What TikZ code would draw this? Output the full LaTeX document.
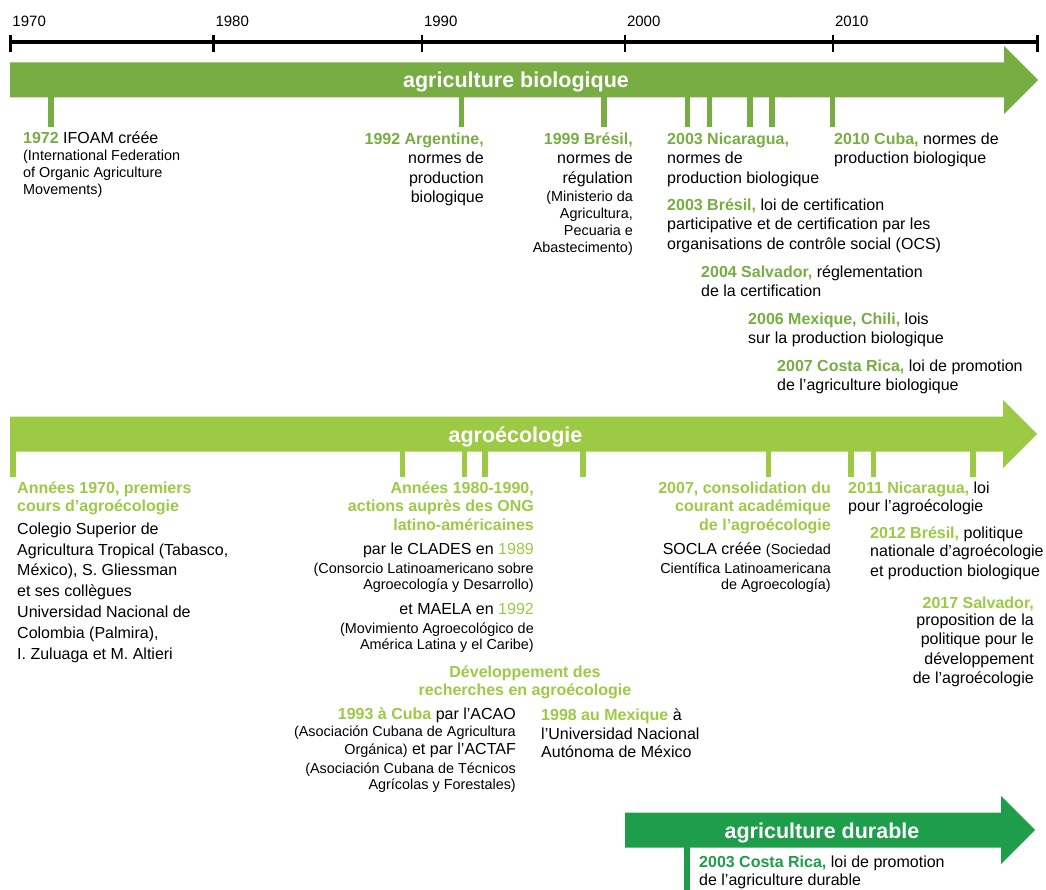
\documentclass[tikz,border=0pt]{standalone}
\usepackage{fontspec}
\setmainfont{Liberation Sans}
\usepackage{xcolor}
\definecolor{biogreen}{HTML}{77AD42}
\definecolor{agrogreen}{HTML}{9CCA44}
\definecolor{durgreen}{HTML}{1E9D4B}
\def\bodyh{17.5}
\def\headh{34}
\def\headl{34}
\newcommand{\sm}[1]{{\fontsize{14.4}{17}\selectfont #1}}
\newcommand{\bio}[1]{\textcolor{biogreen}{\bfseries #1}}
\newcommand{\agro}[1]{\textcolor{agrogreen}{\bfseries #1}}
\newcommand{\dur}[1]{\textcolor{durgreen}{\bfseries #1}}
\newcommand{\drawaxis}{
  \draw[line width=3.5] (10.5, 42) -- (1037.5, 42);
  \foreach \x/\yr in {10.5/1970, 213.5/1980, 422/1990, 625/2000, 833/2010} {
    \draw[line width=2.8] (\x, 35.5) -- (\x, 52);
    \node[yearlabel] (y\yr) at (\x + 1.8, 27) {\yr};
  }
  \draw[line width=2.8] (1037.5, 35.5) -- (1037.5, 52);
}
\newcommand{\bigarrow}[6]{
  \fill[#5] (#2, #4 - \bodyh) -- (#3 - \headl, #4 - \bodyh) -- (#3 - \headl, #4 - \headh)
    -- (#3, #4) -- (#3 - \headl, #4 + \headh) -- (#3 - \headl, #4 + \bodyh)
    -- (#2, #4 + \bodyh) -- cycle;
  \node[arrowlabel] (#1) at ({(#2 + #3)/2 - 8}, #4 + 8) {#6};
}
\newcommand{\drawticks}[4]{
  \foreach \x in {#1} {
    \fill[#4] (\x - 2.8, #2) rectangle (\x + 2.8, #3);
  }
}

\begin{document}
\begin{tikzpicture}[x=1pt, y=-1pt,
  yearlabel/.style={anchor=base west, inner sep=0, font=\fontsize{15}{18}\selectfont},
  arrowlabel/.style={anchor=base, inner sep=0, text=white, font=\fontsize{21.5}{25}\selectfont\bfseries},
  txt/.style={inner sep=0, font=\fontsize{16}{19.3}\selectfont},
  lefttxt/.style={txt, anchor=base west, align=left},
  righttxt/.style={txt, anchor=base east, align=right}]
  \useasboundingbox (0, 0) rectangle (1046, 890);
  \drawaxis{}

  \bigarrow{biolabel}{10}{1038}{80}{biogreen}{agriculture biologique}
  \drawticks{51, 461.5, 604, 687.5, 709.5, 750, 772, 832.5}{96}{127}{biogreen}
  \node[lefttxt] (ifoam) at (23, 195) {\bio{1972} IFOAM créée\\[-2.3pt]
    \sm{(International Federation}\\[-2.3pt]\sm{of Organic Agriculture}\\[-2.3pt]\sm{Movements)}};
  \node[righttxt] (argentine92) at (484, 202.4) {\bio{1992 Argentine,}\\normes de\\production\\biologique};
  \node[righttxt] (bresil99) at (633, 252.4) {\bio{1999 Brésil,}\\normes de\\régulation\\[-1pt]
    \sm{(Ministerio da}\\[-2.3pt]\sm{Agricultura,}\\[-2.3pt]\sm{Pecuaria e}\\[-2.3pt]\sm{Abastecimento)}};
  \node[lefttxt] (nicaragua03) at (667, 183.1) {\bio{2003 Nicaragua,}\\normes de\\production biologique};
  \node[lefttxt] (bresil03) at (667, 249.3) {\bio{2003 Brésil,} loi de certification\\participative et de certification par les\\organisations de contrôle social (OCS)};
  \node[lefttxt] (salvador04) at (701, 296.8) {\bio{2004 Salvador,} réglementation\\de la certification};
  \node[lefttxt] (mexique06) at (748, 343.5) {\bio{2006 Mexique, Chili,} lois\\sur la production biologique};
  \node[lefttxt] (costarica07) at (777, 390.5) {\bio{2007 Costa Rica,} loi de promotion\\de l’agriculture biologique};
  \node[lefttxt] (cuba10) at (834, 163.8) {\bio{2010 Cuba,} normes de\\production biologique};

  \bigarrow{agrolabel}{10}{1037}{434}{agrogreen}{agroécologie}
  \drawticks{13, 402.5, 464.5, 485, 583, 768.5, 851, 873.5, 973}{450}{477}{agrogreen}
  \node[lefttxt, font=\fontsize{16}{20.7}\selectfont] (annees70) at (17, 659.5) {\agro{Années 1970, premiers}\\[-2.2pt]
    \agro{cours d’agroécologie}\\[2.3pt]Colegio Superior de\\Agricultura Tropical (Tabasco,\\México), S. Gliessman\\
    et ses collègues\\Universidad Nacional de\\Colombia (Palmira),\\[0.8pt]I. Zuluaga et M. Altieri};
  \node[righttxt] (annees80) at (534, 649.2) {\agro{Années 1980-1990,}\\[-0.8pt]\agro{actions auprès des ONG}\\
    \agro{latino-américaines}\\[4.5pt]par le CLADES en \textcolor{agrogreen}{1989}\\[-0.3pt]
    \sm{(Consorcio Latinoamericano sobre}\\[-3.3pt]\sm{Agroecología y Desarrollo)}\\[5.3pt]
    et MAELA en \textcolor{agrogreen}{1992}\\[-0.3pt]\sm{(Movimiento Agroecológico de}\\[-3.3pt]\sm{América Latina y el Caribe)}};
  \node[txt, anchor=base, align=center] (recherches) at (525, 695) {\agro{Développement des}\\[-1.3pt]\agro{recherches en agroécologie}};
  \node[righttxt] (cuba93) at (516, 789.3) {\agro{1993 à Cuba} par l’ACAO\\[-2.3pt]\sm{(Asociación Cubana de Agricultura}\\[-1.3pt]
    \sm{Orgánica)} et par l’ACTAF\\\sm{(Asociación Cubana de Técnicos}\\[-3.3pt]\sm{Agrícolas y Forestales)}};
  \node[lefttxt] (mexique98) at (541, 757.5) {\agro{1998 au Mexique} à\\[-0.8pt]l’Universidad Nacional\\[-0.8pt]Autónoma de México};
  \node[righttxt] (consolidation07) at (831, 589.6) {\agro{2007, consolidation du}\\[-0.8pt]\agro{courant académique}\\
    \agro{de l’agroécologie}\\[4.5pt]SOCLA créée \sm{(Sociedad}\\[-0.3pt]\sm{Científica Latinoamericana}\\[-3.3pt]\sm{de Agroecología)}};
  \node[lefttxt] (nicaragua11) at (848, 511.5) {\agro{2011 Nicaragua,} loi\\[-0.8pt]pour l’agroécologie};
  \node[lefttxt] (bresil12) at (870, 576) {\agro{2012 Brésil,} politique\\[-1.3pt]nationale d’agroécologie\\[0.7pt]et production biologique};
  \node[righttxt] (salvador17) at (1034, 683.7) {\agro{2017 Salvador,}\\[-1.9pt]proposition de la\\politique pour le\\[0.7pt]développement\\[-0.3pt]de l’agroécologie};

  \bigarrow{durlabel}{625}{1035}{830}{durgreen}{agriculture durable}
  \drawticks{687}{846}{890}{durgreen}
  \node[lefttxt] (costarica03) at (699, 885.5) {\dur{2003 Costa Rica,} loi de promotion\\[-1pt]de l’agriculture durable};
\end{tikzpicture}
\end{document}
